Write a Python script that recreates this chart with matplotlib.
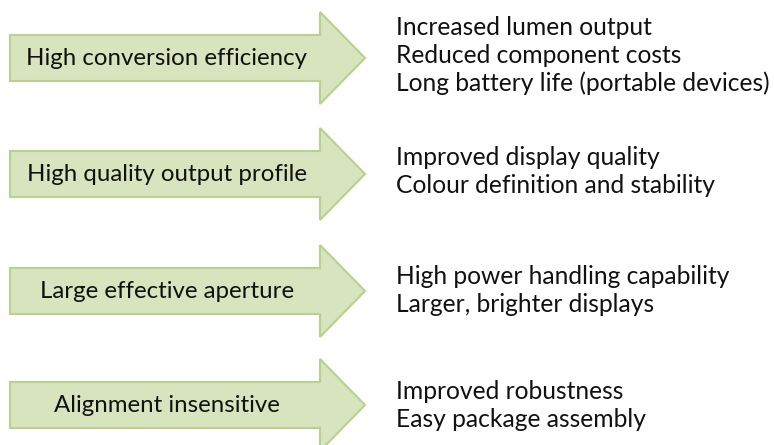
import matplotlib
matplotlib.use('Agg')
from matplotlib import pyplot as plt
from matplotlib.patches import Polygon

# Features (inside the arrows) and the benefits they give
features = [
    'High conversion efficiency',
    'High quality output profile',
    'Large effective aperture',
    'Alignment insensitive',
]
benefits = [
    ['Increased lumen output', 'Reduced component costs', 'Long battery life (portable devices)'],
    ['Improved display quality', 'Colour definition and stability'],
    ['High power handling capability', 'Larger, brighter displays'],
    ['Improved robustness', 'Easy package assembly'],
]

plt.rcParams['font.family'] = ['Lato', 'DejaVu Sans']

W, H = 774, 445
fig = plt.figure(figsize=(W / 100, H / 100), dpi=100)
ax = fig.add_axes([0, 0, 1, 1])
ax.set_xlim(0, W)
ax.set_ylim(H, 0)
ax.axis('off')

fill_color = '#d7e4bd'
edge_color = '#b9d08f'

# arrow geometry in pixels
x0, x_neck, x_tip = 10, 320, 365
body_half, head_half = 23, 46
centers = [58, 174, 291, 405]
first_baseline = [35, 165, 284, 399]
line_gap = 28

for cy, base, feat, bens in zip(centers, first_baseline, features, benefits):
    pts = [
        (x0, cy - body_half), (x_neck, cy - body_half), (x_neck, cy - head_half),
        (x_tip, cy), (x_neck, cy + head_half), (x_neck, cy + body_half),
        (x0, cy + body_half),
    ]
    ax.add_patch(Polygon(pts, closed=True, facecolor=fill_color,
                         edgecolor=edge_color, linewidth=1.5))
    ax.text(167, cy + 7, feat, ha='center', va='baseline',
            fontsize=17.3, color='#111111')
    for i, b in enumerate(bens):
        ax.text(396, base + i * line_gap, b, ha='left', va='baseline',
                fontsize=17.7, color='#111111')

fig.savefig('out.png', dpi=100)
